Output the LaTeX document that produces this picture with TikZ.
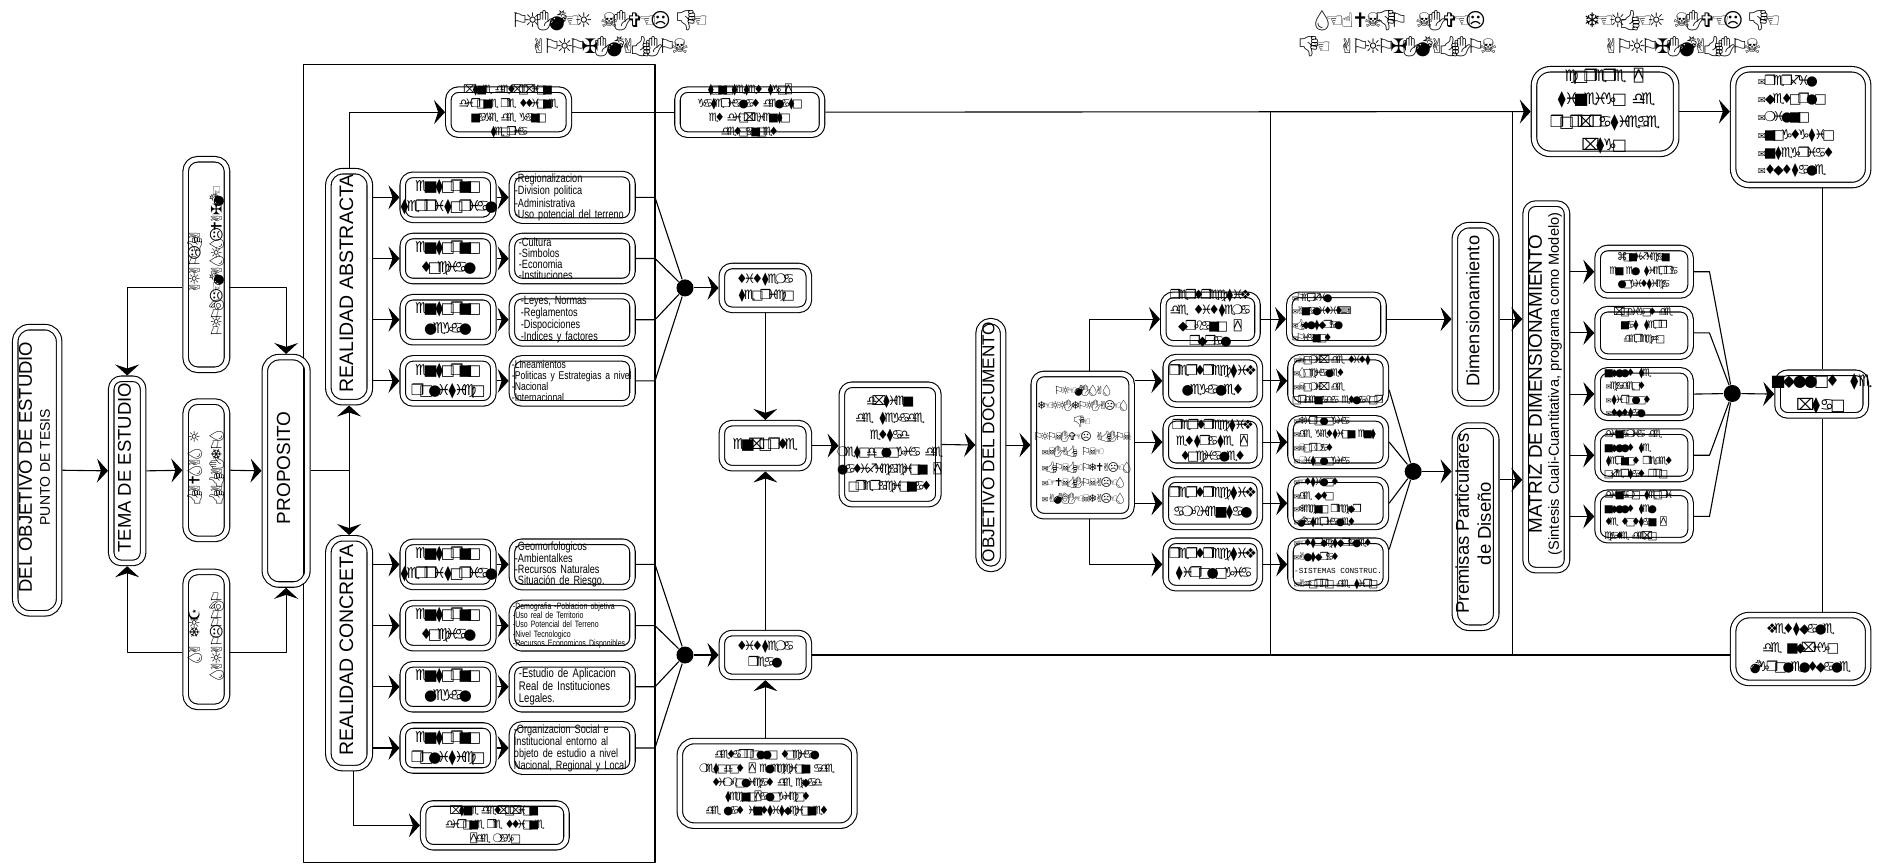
\documentclass[tikz,border=0pt]{standalone}
\usepackage{graphicx}
\usepackage{fontspec}
\usetikzlibrary{arrows.meta,calc}
\setmainfont{Liberation Sans}
\newfontfamily\wgfont{DejaVu Sans}
\newfontfamily\wgmono{DejaVu Sans Mono}
\newfontfamily\wgemo{Noto Emoji}
\newfontfamily\narrowf[FakeStretch=0.76]{Liberation Sans}
\newfontfamily\simplexf{Liberation Mono}
\newcommand\fz[2]{\fontsize{#1}{#2}\selectfont}
\makeatletter
\newlength\wadvl
\def\wa{.62}
\def\wing#1{{\wgfont\wadvl=\wa em\wing@loop#1\@nil}}
\def\wing@loop#1{\ifx#1\@nil\else\wing@ch{#1}\expandafter\wing@loop\fi}
\def\wing@ch#1{\makebox[\wadvl][c]{\csname wg@#1\endcsname}}
\@namedef{wg@|}{\hspace*{.35em}}
\@namedef{wg@a}{♋}\@namedef{wg@b}{♌}\@namedef{wg@c}{♍}\@namedef{wg@d}{♎}\@namedef{wg@e}{♏}
\@namedef{wg@f}{♐}\@namedef{wg@g}{♑}\@namedef{wg@h}{♒}\@namedef{wg@i}{♓}\@namedef{wg@j}{\&}
\@namedef{wg@k}{\&}\@namedef{wg@l}{●}\@namedef{wg@m}{❍}\@namedef{wg@n}{■}\@namedef{wg@o}{□}
\@namedef{wg@p}{❐}\@namedef{wg@q}{❑}\@namedef{wg@r}{❒}\@namedef{wg@s}{♦}\@namedef{wg@t}{⧫}
\@namedef{wg@u}{◆}\@namedef{wg@v}{❖}\@namedef{wg@w}{♦}\@namedef{wg@x}{⌧}\@namedef{wg@y}{{\wgmono ⍓}}
\@namedef{wg@z}{⌘}\@namedef{wg@-}{{\scalebox{.7}{✉}}}\@namedef{wg@:}{⌨}
\@namedef{wg@A}{✌}\@namedef{wg@B}{{\wgemo 👌}}\@namedef{wg@C}{{\wgemo 👍}}\@namedef{wg@D}{{\wgemo 👎}}
\@namedef{wg@E}{☜}\@namedef{wg@F}{☞}\@namedef{wg@G}{☝}\@namedef{wg@H}{☟}\@namedef{wg@I}{{\wgemo ✋}}
\@namedef{wg@J}{☺}\@namedef{wg@L}{☹}\@namedef{wg@M}{{\wgemo 💣}}\@namedef{wg@N}{☠}\@namedef{wg@O}{⚐}
\@namedef{wg@P}{⚐}\@namedef{wg@Q}{✈}\@namedef{wg@R}{☼}\@namedef{wg@S}{{\wgemo 💧}}\@namedef{wg@T}{❄}
\@namedef{wg@U}{✝}\@namedef{wg@V}{✞}\@namedef{wg@W}{✟}\@namedef{wg@X}{✠}\@namedef{wg@Y}{✡}\@namedef{wg@Z}{☪}
\makeatother
\newcommand\vt[2]{\rotatebox{90}{#1\begin{tabular}{@{}c@{}}#2\end{tabular}}}
\newcommand\fitb[1]{\raisebox{-.25em}[0pt][0pt]{\makebox[0pt][c]{\begin{tabular}[c]{@{}c@{}}#1\end{tabular}}}}
\newcommand\wl[2][88pt]{\makebox[#1][l]{\wing{#2}}}
\tikzset{
 dbox/.style={draw,double,double distance=4.4pt,line width=1.1pt,rounded corners=10pt,outer sep=3.3pt,inner sep=0pt,font=\fz{14}{20}},
 lst/.style={dbox,align=left,font=\narrowf\fz{12}{11}},
 mid/.style={font=\fz{13}{15.5}\def\wa{.6}},
 sm/.style={font=\fz{11.5}{14}\def\wa{.52}},
 ent/.style={font=\fz{15}{20}\def\wa{.58}},
 eb/.style={font=\fz{14}{19}\def\wa{.6}},
 fb/.style={font=\fz{10.5}{13.4}\def\wa{.52}},
 ar/.style={-{Stealth[length=11pt,width=24pt,inset=4pt]}},
 jdot/.style={circle,fill=black,inner sep=0pt,minimum size=17pt},
 hd/.style={font=\fz{20}{26}\def\wa{.64},align=center},
 every path/.append style={line width=1.1pt},
}
\newcommand\bx[7][]{%
 \pgfmathsetmacro\bxw{((#5)-(#3))*1.19962-6.6}%
 \pgfmathsetmacro\bxh{((#6)-(#4))*1.19962-6.6}%
 \node[dbox,minimum width=\bxw pt,minimum height=\bxh pt,#1] (#2) at ({((#3)+(#5))/2},{((#4)+(#6))/2}) {\fitb{#7}};}
\newcommand\lbx[8][]{%
 \pgfmathsetmacro\bxw{((#5)-(#3))*1.19962-6.6}%
 \pgfmathsetmacro\bxh{((#6)-(#4))*1.19962-6.6}%
 \pgfmathsetmacro\bxt{\bxw-2*#7}%
 \node[lst,minimum width=\bxw pt,text width=\bxt pt,minimum height=\bxh pt,#1] (#2) at ({((#3)+(#5))/2},{((#4)+(#6))/2}) {#8};}
\begin{document}
\begin{tikzpicture}[x=1.19962pt,y=-1.19962pt,line join=round]
\useasboundingbox (0,0) rectangle (1568,722);
\fill[white] (0,0) rectangle (1568,722);
% headers
\node[hd] (h1) at (508,28) {\wing{PRIMER|NIVEL|DE}\\\wing{APROXIMACION}};
\node[hd] (h2) at (1166,28) {\wing{SEGUNDO|NIVEL}\\\wing{DE|APROXIMACION}};
\node[hd] (h3) at (1402,28) {\wing{TERCER|NIVEL|DE}\\\wing{APROXIMACION}};
% frame
\draw (253,54) rectangle (546,719);
\coordinate (fr) at (546,0);
\coordinate (v1) at (1059,0);
\coordinate (v2) at (1261,0);
\coordinate (vx) at (1519,0);
\coordinate (qx) at (908,0);
\coordinate (gx) at (1425,0);
% left column
\bx[rounded corners=14pt]{del}{10}{270}{52}{514}{\vt{\fz{18.5}{18}}{DEL OBJETIVO DE ESTUDIO\\\fz{14}{14}PUNTO DE TESIS}}
\bx{tema}{90}{313}{122}{472}{\vt{\fz{18.5}{18}}{TEMA DE ESTUDIO}}
\bx[rounded corners=12pt]{va}{152}{130}{192}{311}{\vt{\fz{14.5}{22}\def\wa{.6}}{\wing{ARAPLCA}\\\wing{PROBLEMASRSLUAXME}}}
\bx[rounded corners=12pt]{vb}{152}{332}{192}{452}{\vt{\fz{14.5}{22}\def\wa{.6}}{\wing{CAUSAS|R}\\\wing{CACAITPS}}}
\bx[rounded corners=12pt]{vc}{152}{474}{192}{592}{\vt{\fz{14.5}{22}\def\wa{.6}}{\wing{SA|TRZ}\\\wing{SARAPLOPBP}}}
\bx[rounded corners=14pt]{prop}{218}{295}{259}{490}{\vt{\fz{19}{18}}{PROPOSITO}}
\bx[rounded corners=14pt]{RA}{271}{140}{311}{338}{\vt{\fz{19.5}{18}}{REALIDAD ABSTRACTA}}
\bx[rounded corners=14pt]{RC}{271}{446}{311}{643}{\vt{\fz{19.5}{18}}{REALIDAD CONCRETA}}
% entorno columns
\bx[ent]{c1}{333}{143}{414}{186}{\wing{entorno}\\\wing{territorial}}
\bx[ent]{c2}{333}{194}{414}{237}{\wing{entorno}\\\wing{social}}
\bx[ent]{c3}{333}{245}{414}{288}{\wing{entorno}\\\wing{legal}}
\bx[ent]{c4}{333}{296}{414}{339}{\wing{entorno}\\\wing{politico}}
\bx[ent]{c5}{333}{449}{414}{492}{\wing{entorno}\\\wing{territorial}}
\bx[ent]{c6}{333}{500}{414}{543}{\wing{entorno}\\\wing{social}}
\bx[ent]{c7}{333}{551}{414}{594}{\wing{entorno}\\\wing{legal}}
\bx[ent]{c8}{333}{602}{414}{645}{\wing{entorno}\\\wing{politico}}
\lbx{d1}{424}{143}{530}{186}{3}{-Regionalizacion\\-Division politica\\-Administrativa\\-Uso potencial del terreno}
\lbx{d2}{424}{194}{530}{237}{7}{-Cultura\\-Simbolos\\-Economia\\-Instituciones}
\lbx{d3}{424}{245}{530}{288}{9}{-Leyes, Normas\\-Reglamentos\\-Dispociciones\\-Indices y factores}
\lbx[font=\narrowf\fz{11.3}{11}]{d4}{424}{296}{530}{339}{0}{-Lineamientos\\-Politicas y Estrategias a nivel\\-Nacional\\-Internacional}
\lbx{d5}{424}{449}{530}{492}{3}{-Geomorfologicos\\-Ambientalkes\\-Recursos Naturales\\-Situación de Riesgo.}
\lbx[font=\narrowf\fz{9.2}{9.2}]{d6}{424}{500}{530}{543}{1}{-Demografia -Poblacion objetiva\\-Uso real de Territorio\\-Uso Potencial del Terreno\\-Nivel Tecnologico\\-Recursos Economicos Disponibles}
\lbx[font=\narrowf\fz{12.5}{12.5}]{d7}{424}{551}{530}{594}{7}{-Estudio de Aplicacion\\Real de Instituciones\\Legales.}
\lbx[font=\narrowf\fz{12}{12}]{d8}{424}{602}{530}{645}{2}{-Organizacion Social e\\Institucional entorno al\\objeto de estudio a nivel\\Nacional, Regional y Local}
\bx[sm]{tb}{371}{72}{477}{115}{\wing{xtne|desxoxion}\\\wing{dipone|re|ssione}\\\wing{nage|de|gano}\\\wing{teoria}}
\bx[sm]{bb}{350}{667}{475}{709}{\wing{xtne|desxoxion}\\\wing{dipone|re|ssione}\\\wing{yde|mago}}
\bx[sm]{tc}{562}{72}{688}{115}{\wing{tonotetes|tgoy}\\\wing{gaterialas|delato}\\\wing{es|dioxeiento}\\\wing{desoanoes}}
\node[jdot] (dA) at (571,240) {};
\node[jdot] (dB) at (571,546) {};
\bx[mid]{s1}{599}{219}{677}{261}{\wing{sistema}\\\wing{teorico}}
\bx[ent]{s2}{599}{350}{677}{393}{\wing{enxorse}}
\bx[mid]{s3}{599}{525}{677}{567}{\wing{sistema}\\\wing{real}}
\bx[rounded corners=14pt,sm]{bc}{564}{615}{715}{691}{\wing{desarrollo|social}\\\wing{metodos|y|eleccion|ade}\\\wing{simbolicas|de|cuad}\\\wing{tecnoyalogicos}\\\wing{de|las|instituciones}}
\bx[font=\fz{13}{17}\def\wa{.56}]{pp}{699}{318}{785}{423}{\wing{dxtien}\\\wing{de|tegade}\\\wing{estad}\\\wing{metodologia|de}\\\wing{lasificacion|y}\\\wing{operacionas}}
\bx[rounded corners=12pt]{obj}{813}{265}{839}{477}{\vt{\fz{17.2}{17}}{OBJETIVO DEL DOCUMENTO}}
\bx[font=\fz{11}{15.4}\def\wa{.62}]{q}{859}{309}{946}{433}{\wing{PREMISAS}\\\wing{TERRITORIALES}\\\wing{DE}\\\wing{PRONIVEL|ACION}\\\wl[82pt]{-NIAC|ONE}\\\wl[82pt]{-CONCEPTUALES}\\\wl[82pt]{-FUNCIONALES}\\\wl[82pt]{-AMBIENTALES}}
\bx[mid]{e1}{967}{243}{1051}{289}{\wing{perspectiv}\\\wing{de|sistema}\\\wing{urbano|y}\\\wing{rural}}
\bx[eb]{e2}{969}{295}{1053}{340}{\wing{perspectiv}\\\wing{legales}}
\bx[mid]{e3}{969}{346}{1053}{391}{\wing{perspectiv}\\\wing{estrate|y}\\\wing{sociales}}
\bx[eb]{e4}{969}{397}{1053}{442}{\wing{perspectiv}\\\wing{ambiental}}
\bx[eb]{e5}{969}{448}{1053}{493}{\wing{perspectiv}\\\wing{tipologia}}
\bx[fb]{f1}{1072}{243}{1156}{289}{\wl{-Perfil}\\\wl{-Analisis:}\\\wl{-Cultural}\\\wl{-Pianos}}
\bx[fb]{f2}{1073}{295}{1158}{340}{\wl{-Nomix|de|sist}\\\wl{-Sociales}\\\wl{-Nomix|de}\\\wl{ordenada|eslabor}}
\bx[fb]{f3}{1073}{346}{1158}{391}{\wl{-Tipologia}\\\wl{-de|gestion|ent}\\\wl{-Normas}\\\wl{-Hitologia}}
\bx[fb]{f4}{1073}{397}{1158}{442}{\wl{-Estilos}\\\wl{-de|uso}\\\wl{-Tecno|recur}\\\wl{-Materiales}}
\bx[fb]{f5}{1073}{448}{1158}{493}{\wl{-Estructurales}\\\wl{-Alturas}\\\makebox[88pt][l]{\simplexf\fz{7.7}{13.4}-SISTEMAS CONSTRUC.}\\\wl{-Ahorro|de|tipo}}
\node[jdot] (dC) at (1178,393) {};
\bx[rounded corners=14pt]{dim}{1210}{185}{1250}{339}{\vt{\fz{18.2}{18}}{Dimensionamiento}}
\bx[rounded corners=14pt]{prem}{1210}{352}{1250}{526}{\vt{\fz{18.5}{22}}{Premisas Particulares\\de Diseño}}
\bx[rounded corners=10pt]{mat}{1269}{167}{1309}{478}{\vt{\fz{18.9}{17}}{MATRIZ DE DIMENSIONAMIENTO\\\fz{14.6}{14}(Sintesis Cuali-Cuantitativa, programa como Modelo)}}
\bx[rounded corners=16pt,font=\fz{16}{23}\def\wa{.6}]{tr}{1276}{55}{1400}{131}{\wing{copere|y}\\\wing{tineigo|de}\\\wing{ropxpatieae}\\\wing{xtgo}}
\bx[rounded corners=16pt,font=\fz{13.5}{17.8}\def\wa{.62}]{rt}{1442}{55}{1560}{157}{\wl[86pt]{-perfil}\\\wl[86pt]{-uesoplo}\\\wl[86pt]{-milno}\\\wl[86pt]{-nogsgtio}\\\wl[86pt]{-ntegrias}\\\wl[86pt]{-sustale}}
\bx[rounded corners=16pt,font=\fz{13.5}{19}\def\wa{.6}]{rb}{1442}{510}{1560}{572}{\wing{vestuale}\\\wing{de|nuxigo}\\\wing{Mgrolelsuale}}
\bx[font=\fz{16}{24}\def\wa{.68}]{fin}{1479}{308}{1558}{349}{\wing{nullos|te}\\\wing{xtao}}
\bx[fb]{g1}{1329}{204}{1412}{249}{\wing{zonifican}\\\wing{en|el|tierra}\\\wing{logistica}}
\bx[fb]{g2}{1329}{255}{1412}{300}{\wing{xodigos|de}\\\wing{nat|terr}\\\wing{derecho}\\\mbox{}}
\bx[fb]{g3}{1329}{306}{1412}{351}{\wl[76pt]{nulls|te}\\\wl[76pt]{-cadeos}\\\wl[76pt]{-tipolos}\\\wl[76pt]{-sustal}}
\bx[fb]{g4}{1329}{357}{1412}{402}{\wl[76pt]{dinamia|de}\\\wl[76pt]{nulls|te}\\\wl[76pt]{ternos|redes}\\\wl[76pt]{ofertas|pro}}
\bx[fb]{g5}{1329}{408}{1412}{453}{\wl[76pt]{dinamo|teori}\\\wl[76pt]{nulls|tel}\\\wl[76pt]{se|sostan|y}\\\wl[76pt]{case|dexo}}
\node[jdot] (dD) at (1444,328) {};
% connectors left
\draw[ar] (del.east) -- (tema.west);
\draw[ar] (tema.east) -- (vb.west);
\draw[ar] (vb.east) -- (prop.west);
\coordinate (yA) at (0,240);
\coordinate (yB) at (0,544);
\draw[ar] (va.west |- yA) -| (tema.north);
\draw[ar] (va.east |- yA) -| (prop.north);
\draw[ar] (vc.west |- yB) -| (tema.south);
\draw[ar] (vc.east |- yB) -| (prop.south);
\draw (prop.east) -- (prop.east -| RA.south);
\draw[ar] (prop.east -| RA.south) -- (RA.south);
\draw[ar] (prop.east -| RC.north) -- (RC.north);
\draw[ar] (RA.north) |- (tb.west);
\draw[ar] ([xshift=4pt]RC.south) |- (bb.west);
\foreach \i in {1,2,3,4}{
 \draw[ar] (c\i.west -| RA.east) -- (c\i.west);
 \draw[ar] (c\i.east) -- (d\i.west);
 \draw (d\i.east) -- (d\i.east -| fr) -- (dA);
}
\foreach \i in {5,6,7,8}{
 \draw[ar] (c\i.west -| RC.east) -- (c\i.west);
 \draw[ar] (c\i.east) -- (d\i.west);
 \draw (d\i.east) -- (d\i.east -| fr) -- (dB);
}
\draw[ar] (dA) -- (s1.west);
\draw[ar] (dB) -- (s3.west);
\draw[ar] (s1.south) -- (s2.north);
\draw[ar] (s3.north) -- (s2.south);
\draw[ar] (bc.north -| s3.south) -- (s3.south);
\draw[ar] (s2.east) -- (s2.east -| pp.west);
\draw[ar] (pp.east) -- (obj.west);
\draw[ar] (obj.east) -- (q.west);
\draw[ar] (q.north -| qx) |- (e1.west);
\draw[ar] (q.south -| qx) |- (e5.west);
\draw[ar] (q.east |- e2.west) -- (e2.west);
\draw[ar] (q.east |- e3.west) -- (e3.west);
\draw[ar] (q.east |- e4.west) -- (e4.west);
\foreach \i in {1,2,3,4,5}{\draw[ar] (e\i.east) -- (f\i.west);}
\draw[ar] (f1.east) -- (f1.east -| dim.west);
\draw[ar] (f1.east -| dim.east) -- (f1.east -| mat.west);
\coordinate (y2) at (0,325);
\coordinate (y5) at (0,458);
\coordinate (y400) at (0,400);
\draw (f2.east |- y2) -- (dC);
\draw (f3.east) -- (dC);
\draw (f4.east) -- (dC);
\draw (f5.east |- y5) -- (dC);
\draw[ar] (dC) -- (dC -| prem.west);
\draw[ar] (prem.east |- y400) -- (mat.west |- y400);
\draw (tb.east) -- (tc.west);
\draw[ar] (tc.east) -- (tr.west);
\draw[ar] (tr.east) -- (rt.west |- tr.east);
\draw (s3.east) -- (s3.east -| rb.west);
\draw (v1 |- tc.east) -- (v1 |- s3.east);
\draw (v2 |- tc.east) -- (v2 |- s3.east);
\foreach \i in {1,2,3,4,5}{\draw[ar] (mat.east |- g\i.west) -- (g\i.west);}
\draw (g1.east) -- (g1.east -| gx) -- (dD);
\draw (g2.east) -- (g2.east -| gx) -- (dD);
\draw (g3.east) -- (dD);
\draw (g4.east) -- (g4.east -| gx) -- (dD);
\draw (g5.east) -- (g5.east -| gx) -- (dD);
\draw[ar] (dD) -- (fin.west);
\draw (rt.south -| vx) -- (fin.north -| vx);
\draw (fin.south -| vx) -- (rb.north -| vx);
\end{tikzpicture}
\end{document}
